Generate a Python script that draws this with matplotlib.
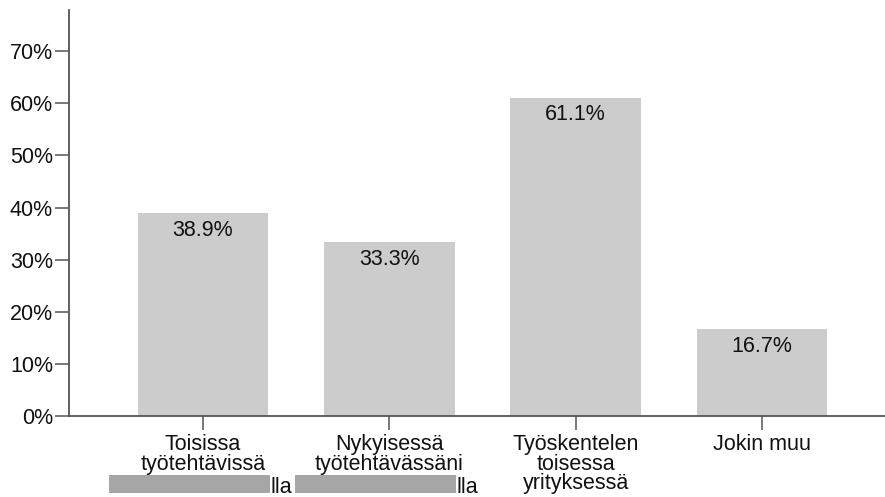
import matplotlib
matplotlib.use("Agg")
import matplotlib.pyplot as plt
from matplotlib.patches import Rectangle
from matplotlib.transforms import blended_transform_factory

plt.rcParams['font.family'] = ['Liberation Sans', 'DejaVu Sans']

categories = [
    "Toisissa\ntyötehtävissä",
    "Nykyisessä\ntyötehtävässäni",
    "Työskentelen\ntoisessa\nyrityksessä",
    "Jokin muu",
]
percentages = [38.9, 33.3, 61.1, 16.7]
yticks = [0, 10, 20, 30, 40, 50, 60, 70]
ytick_labels = [f"{v}%" for v in yticks]
# categories whose third label line is partly masked
masked_rows = [0, 1]
masked_suffix = "lla"

TEXT = "#111111"
AXIS = "#555555"
BAR = "#cccccc"
MASK = "#a6a6a6"
FS = 15.5

fig = plt.figure(figsize=(8.85, 4.97), dpi=100)
ax = fig.add_axes([69 / 885, 81 / 497, (885 - 69) / 885, 406 / 497])

x = list(range(len(categories)))
bars = ax.bar(x, percentages, width=0.70, color=BAR, edgecolor="none", zorder=2)

for xi, v in zip(x, percentages):
    ax.annotate(f"{v:.1f}%", xy=(xi, v), xytext=(0, -16.5),
                textcoords="offset points", ha="center", va="baseline",
                fontsize=FS, color=TEXT, zorder=3)

ax.set_xlim(-0.719, 3.66)
ax.set_ylim(0, 77.9)
ax.set_yticks(yticks)
ax.set_yticklabels(ytick_labels, fontsize=FS, color=TEXT)
ax.set_xticks(x)
ax.set_xticklabels(categories, fontsize=FS, color=TEXT, linespacing=0.92)

ax.tick_params(axis="y", direction="out", length=10, width=1.1, color=AXIS, pad=1.5)
ax.tick_params(axis="x", direction="out", length=10, width=1.1, color=AXIS, pad=3)

for side in ("top", "right"):
    ax.spines[side].set_visible(False)
for side in ("left", "bottom"):
    ax.spines[side].set_color(AXIS)
    ax.spines[side].set_linewidth(1.3)

# masked third line under the first two categories
trans = blended_transform_factory(ax.transData, ax.transAxes)
for i in masked_rows:
    ax.add_patch(Rectangle((x[i] - 0.505, -0.190), 0.865, 0.045,
                           transform=trans, facecolor=MASK, edgecolor="none",
                           clip_on=False, zorder=4))
    ax.text(x[i] + 0.362, -0.190, masked_suffix, transform=trans,
            ha="left", va="baseline", fontsize=FS, color=TEXT, clip_on=False)

fig.savefig("out.png", dpi=100)
